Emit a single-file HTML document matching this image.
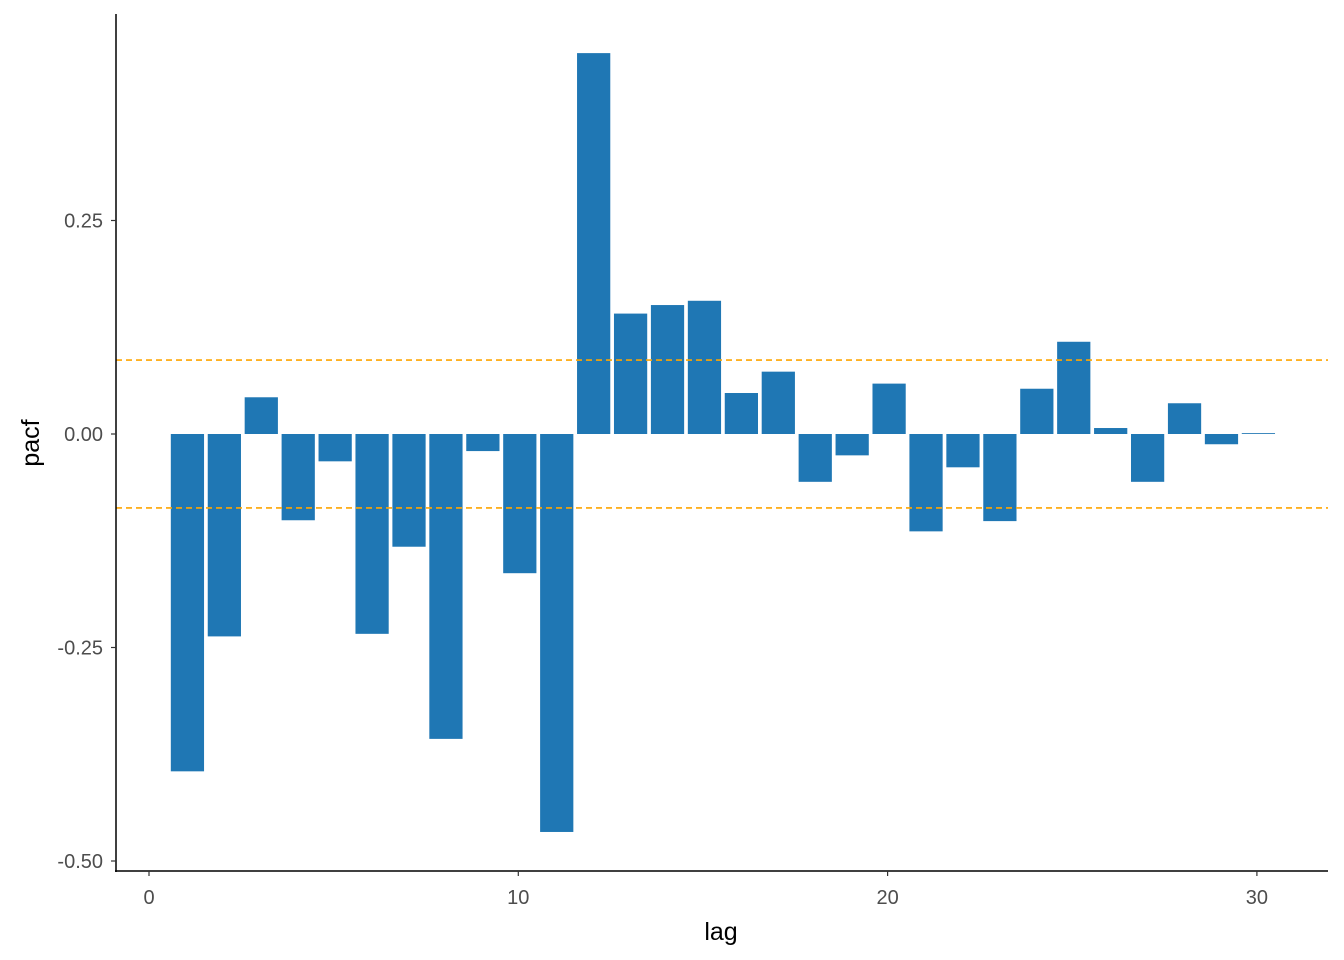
<!DOCTYPE html>
<html><head><meta charset="utf-8"><style>
body{margin:0;background:#fff}
svg{display:block;font-family:"Liberation Sans",sans-serif}
</style></head><body>
<svg id="chart" width="1344" height="960">
<g id="bars"></g>
<g id="axes"></g>
</svg>
<script>
const lags=[1,2,3,4,5,6,7,8,9,10,11,12,13,14,15,16,17,18,19,20,21,22,23,24,25,26,27,28,29,30];
const pacf=[-0.395,-0.237,0.043,-0.101,-0.032,-0.234,-0.132,-0.357,-0.020,-0.163,-0.466,0.446,0.141,0.151,0.156,0.048,0.073,-0.056,-0.025,0.059,-0.114,-0.039,-0.102,0.053,0.108,0.007,-0.056,0.036,-0.012,0.001];
const ciBound=[0.0866];
const xTicks=[0,10,20,30];
const yTicks=[-0.5,-0.25,0,0.25];
const yTickLabels=["-0.50","-0.25","0.00","0.25"];
const NS="http://www.w3.org/2000/svg";
const x=v=>150+v*36.93;
const y=v=>434-v*854;
const bars=document.getElementById('bars'),axes=document.getElementById('axes');
function mk(tag,attrs,parent){const e=document.createElementNS(NS,tag);for(const k in attrs)e.setAttribute(k,attrs[k]);parent.appendChild(e);return e;}
lags.forEach((l,i)=>{
 const v=pacf[i];
 const r=mk('rect',{x:x(l-0.45)+0.5,width:36.93*0.9,y:Math.min(y(v),y(0)),height:Math.max(Math.abs(y(v)-y(0)),0.8),fill:'#1f77b4'},bars);
 
 
});
[ciBound[0],-ciBound[0]].forEach((b,i)=>{
 const ln=mk('line',{x1:116,x2:1328,y1:y(b),y2:y(b),stroke:'#ffa500','stroke-width':1.6,'stroke-dasharray':'6,4'},bars);
 
 
});
const ya=mk('line',{x1:116,x2:116,y1:14,y2:872,stroke:'#000','stroke-width':1.5},axes);


const xa=mk('line',{x1:115,x2:1328,y1:871,y2:871,stroke:'#000','stroke-width':1.5},axes);


yTicks.forEach((t,i)=>{
 mk('line',{x1:111,x2:116,y1:y(t),y2:y(t),stroke:'#333','stroke-width':1.2},axes);
 const tx=mk('text',{x:103,y:y(t)+7,'text-anchor':'end','font-size':20,fill:'#4d4d4d'},axes);
 tx.textContent=yTickLabels[i];
 
 
});
xTicks.forEach(t=>{
 mk('line',{x1:x(t)-1,x2:x(t)-1,y1:871,y2:876,stroke:'#333','stroke-width':1.2},axes);
 const tx=mk('text',{x:x(t)-1,y:904,'text-anchor':'middle','font-size':20,fill:'#4d4d4d'},axes);
 tx.textContent=t;
 
 
});
const xt=mk('text',{x:721,y:940,'text-anchor':'middle','font-size':25,fill:'#000'},axes);
xt.textContent='lag';


const yt=mk('text',{x:39,y:443,'text-anchor':'middle','font-size':25,fill:'#000',transform:'rotate(-90 39 443)'},axes);
yt.textContent='pacf';


</script>
</body></html>
